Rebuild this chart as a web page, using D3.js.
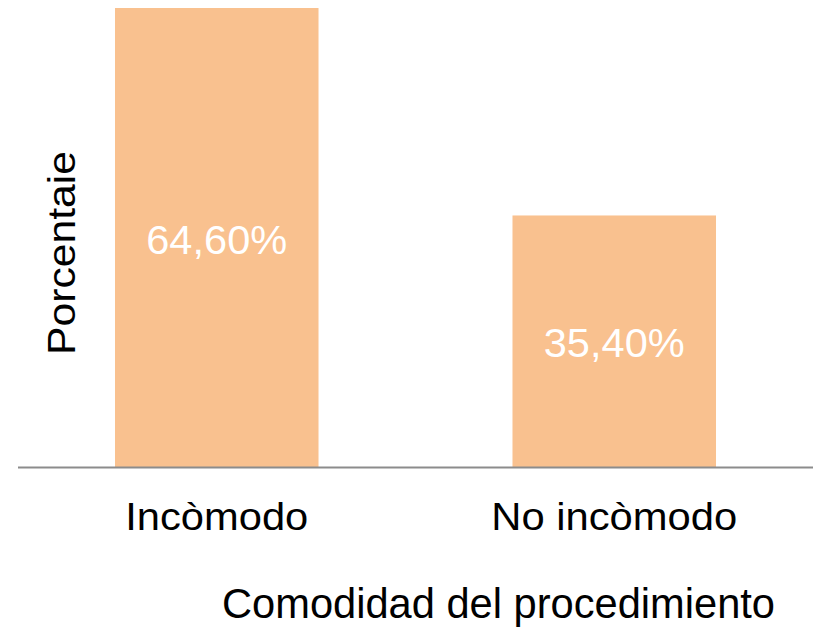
<!DOCTYPE html>
<html>
<head>
<meta charset="utf-8">
<script src="https://cdn.jsdelivr.net/npm/d3@7"></script>
<style>
  html, body { margin: 0; padding: 0; background: #ffffff; }
  svg { display: block; }
  text { font-family: "Liberation Sans", Arial, Helvetica, sans-serif; }
</style>
</head>
<body>
<svg id="chart" width="819" height="627"></svg>
<script>
// Survey result: perceived comfort of the procedure
const categories = ["Incòmodo", "No incòmodo"];
const percentages = [64.6, 35.4];
const valueLabels = ["64,60%", "35,40%"];
const xTitle = "Comodidad del procedimiento";
const yTitle = "Porcentaie";

const svg = d3.select("#chart");
const plot = { left: 18, right: 813, top: 8, bottom: 467 };

const x = d3.scaleBand()
  .domain(categories)
  .range([plot.left, plot.right])
  .paddingInner(0.488)
  .paddingOuter(0.244);

const y = d3.scaleLinear()
  .domain([0, d3.max(percentages)])
  .range([plot.bottom, plot.top]);

const data = categories.map((c, i) => ({ cat: c, value: percentages[i], label: valueLabels[i] }));

// bars
svg.append("g")
  .selectAll("rect")
  .data(data)
  .join("rect")
  .attr("x", d => x(d.cat))
  .attr("y", d => y(d.value))
  .attr("width", x.bandwidth())
  .attr("height", d => y(0) - y(d.value))
  .attr("fill", "#f9c18f");

// value labels centred in each bar
svg.append("g")
  .selectAll("text")
  .data(data)
  .join("text")
  .attr("x", d => x(d.cat) + x.bandwidth() / 2)
  .attr("y", d => (y(d.value) + y(0)) / 2 + 16)
  .attr("text-anchor", "middle")
  .attr("fill", "#ffffff")
  .attr("font-size", 41)
  .attr("textLength", 141)
  .attr("lengthAdjust", "spacingAndGlyphs")
  .text(d => d.label);

// x axis: baseline and category labels
const xAxis = d3.axisBottom(x).tickSize(0).tickPadding(0);
const gx = svg.append("g")
  .attr("transform", `translate(0,${plot.bottom})`)
  .call(xAxis);
gx.select(".domain")
  .attr("stroke", "#8c8c8c")
  .attr("stroke-width", 2)
  .attr("d", `M${plot.left},0.5H${plot.right}`);
const catWidths = { "Incòmodo": 183, "No incòmodo": 246 };
gx.selectAll(".tick text")
  .attr("y", 63)
  .attr("dy", 0)
  .attr("fill", "#000000")
  .attr("font-size", 39)
  .attr("font-family", "Liberation Sans, Arial, sans-serif")
  .attr("textLength", d => catWidths[d])
  .attr("lengthAdjust", "spacingAndGlyphs");

// axis titles
svg.append("text")
  .attr("x", 498.5)
  .attr("y", 618)
  .attr("text-anchor", "middle")
  .attr("fill", "#000000")
  .attr("font-size", 42)
  .attr("textLength", 553)
  .attr("lengthAdjust", "spacingAndGlyphs")
  .text(xTitle);

svg.append("text")
  .attr("transform", "translate(75,253) rotate(-90)")
  .attr("text-anchor", "middle")
  .attr("fill", "#000000")
  .attr("font-size", 39)
  .attr("textLength", 204)
  .attr("lengthAdjust", "spacingAndGlyphs")
  .text(yTitle);
</script>
</body>
</html>
